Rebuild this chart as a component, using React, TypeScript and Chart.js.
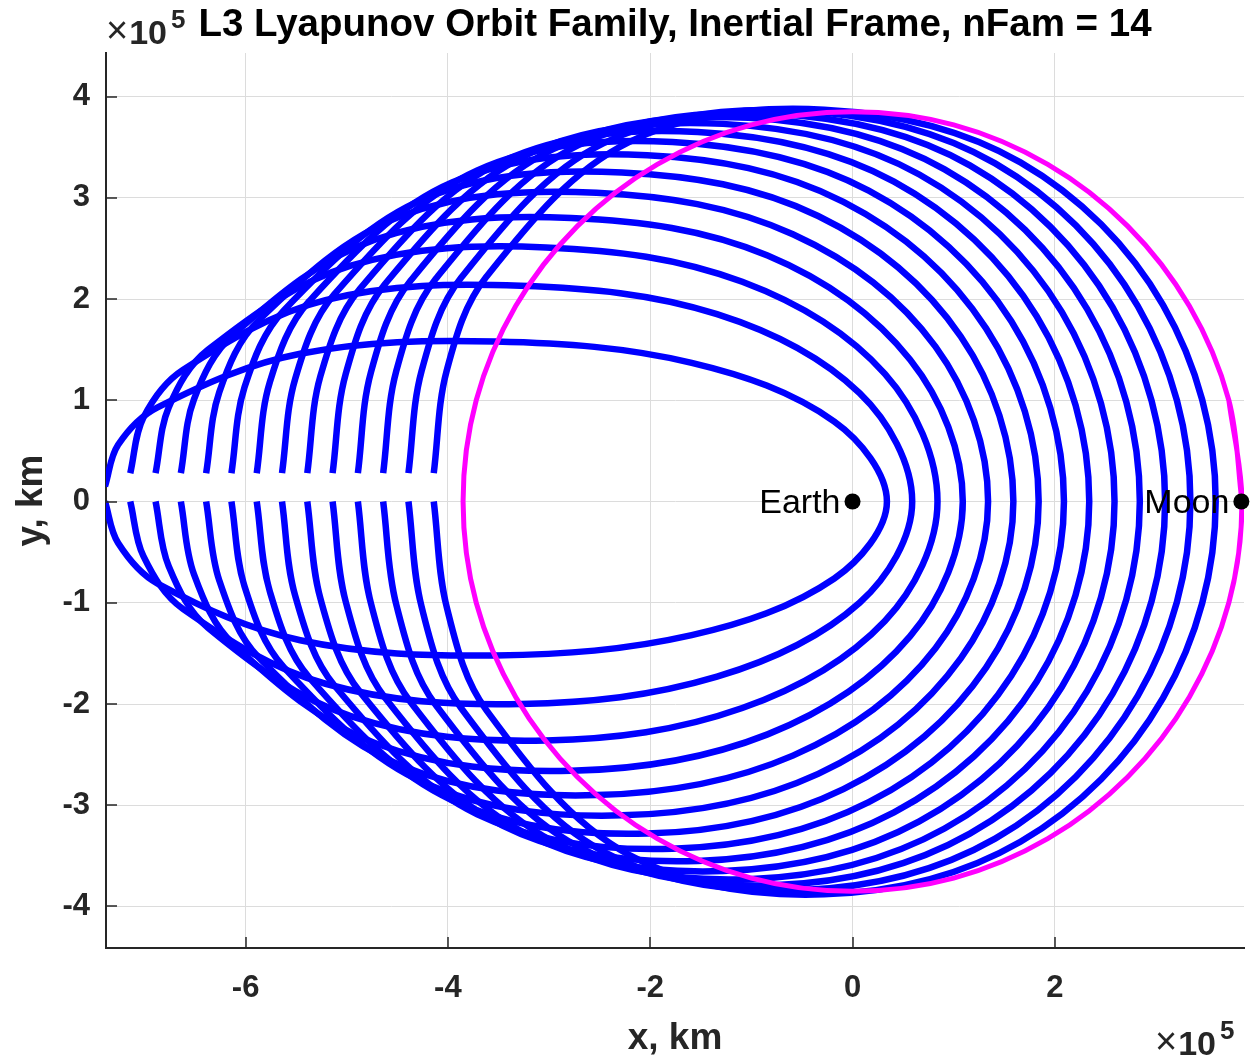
import { useEffect, useRef } from "react";
import { Chart, registerables } from "chart.js";

Chart.register(...registerables);

const W = 1258;
const H = 1057;
const FONT = "'Liberation Sans', Arial, Helvetica, sans-serif";

// L3 Lyapunov family members (units of 1e5 km), traced from the left x-axis crossing,
// down under the Earth, round the right-hand side, over the top and back to the left.
const orbitX: number[][] = [
  [-7.39, -7.26, -6.87, -5.46, -3.53, -1.59, -0.18, 0.34, -0.18, -1.59, -3.53, -5.46, -6.87, -7.26, -7.39],
  [-7.14, -7.01, -6.62, -5.21, -3.28, -1.34, 0.07, 0.59, 0.07, -1.34, -3.28, -5.21, -6.62, -7.01, -7.14],
  [-6.89, -6.76, -6.37, -4.96, -3.03, -1.09, 0.32, 0.84, 0.32, -1.09, -3.03, -4.96, -6.37, -6.76, -6.89],
  [-6.64, -6.51, -6.12, -4.71, -2.78, -0.84, 0.57, 1.09, 0.57, -0.84, -2.78, -4.71, -6.12, -6.51, -6.64],
  [-6.39, -6.26, -5.87, -4.46, -2.53, -0.59, 0.82, 1.34, 0.82, -0.59, -2.53, -4.46, -5.87, -6.26, -6.39],
  [-6.14, -6.01, -5.62, -4.21, -2.28, -0.34, 1.07, 1.59, 1.07, -0.34, -2.28, -4.21, -5.62, -6.01, -6.14],
  [-5.89, -5.76, -5.37, -3.96, -2.03, -0.09, 1.32, 1.84, 1.32, -0.09, -2.03, -3.96, -5.37, -5.76, -5.89],
  [-5.64, -5.51, -5.12, -3.71, -1.78, 0.16, 1.57, 2.09, 1.57, 0.16, -1.78, -3.71, -5.12, -5.51, -5.64],
  [-5.39, -5.26, -4.87, -3.46, -1.53, 0.41, 1.82, 2.34, 1.82, 0.41, -1.53, -3.46, -4.87, -5.26, -5.39],
  [-5.14, -5.01, -4.62, -3.21, -1.28, 0.66, 2.07, 2.59, 2.07, 0.66, -1.28, -3.21, -4.62, -5.01, -5.14],
  [-4.89, -4.76, -4.37, -2.96, -1.03, 0.91, 2.32, 2.84, 2.32, 0.91, -1.03, -2.96, -4.37, -4.76, -4.89],
  [-4.64, -4.51, -4.12, -2.71, -0.78, 1.16, 2.57, 3.09, 2.57, 1.16, -0.78, -2.71, -4.12, -4.51, -4.64],
  [-4.39, -4.26, -3.87, -2.46, -0.53, 1.41, 2.82, 3.34, 2.82, 1.41, -0.53, -2.46, -3.87, -4.26, -4.39],
  [-4.14, -4.01, -3.62, -2.21, -0.28, 1.66, 3.07, 3.59, 3.07, 1.66, -0.28, -2.21, -3.62, -4.01, -4.14],
];

const orbitY: number[][] = [
  [0, -0.41, -0.81, -1.37, -1.52, -1.32, -0.76, 0, 0.79, 1.37, 1.58, 1.46, 0.93, 0.56, 0.15],
  [0, -0.54, -1.06, -1.8, -2.0, -1.73, -1.0, 0, 1.07, 1.85, 2.13, 1.99, 1.3, 0.83, 0.28],
  [0, -0.64, -1.25, -2.12, -2.36, -2.04, -1.18, 0, 1.26, 2.17, 2.51, 2.33, 1.5, 0.93, 0.28],
  [0, -0.72, -1.41, -2.39, -2.66, -2.3, -1.33, 0, 1.4, 2.43, 2.8, 2.59, 1.65, 1.01, 0.28],
  [0, -0.78, -1.54, -2.61, -2.9, -2.51, -1.45, 0, 1.53, 2.64, 3.05, 2.82, 1.79, 1.08, 0.28],
  [0, -0.84, -1.64, -2.79, -3.1, -2.69, -1.55, 0, 1.63, 2.82, 3.25, 3.0, 1.89, 1.13, 0.28],
  [0, -0.89, -1.74, -2.95, -3.28, -2.84, -1.64, 0, 1.71, 2.96, 3.42, 3.15, 1.98, 1.18, 0.28],
  [0, -0.93, -1.82, -3.09, -3.43, -2.97, -1.72, 0, 1.78, 3.07, 3.55, 3.27, 2.05, 1.21, 0.28],
  [0, -0.96, -1.88, -3.2, -3.55, -3.07, -1.78, 0, 1.83, 3.16, 3.65, 3.36, 2.1, 1.24, 0.28],
  [0, -0.99, -1.94, -3.29, -3.65, -3.16, -1.83, 0, 1.87, 3.23, 3.73, 3.43, 2.15, 1.26, 0.28],
  [0, -1.01, -1.98, -3.36, -3.73, -3.23, -1.87, 0, 1.9, 3.28, 3.79, 3.48, 2.18, 1.28, 0.28],
  [0, -1.02, -2.01, -3.41, -3.79, -3.28, -1.9, 0, 1.92, 3.32, 3.83, 3.52, 2.2, 1.29, 0.28],
  [0, -1.04, -2.04, -3.46, -3.84, -3.33, -1.92, 0, 1.93, 3.34, 3.86, 3.54, 2.21, 1.29, 0.28],
  [0, -1.05, -2.06, -3.49, -3.88, -3.36, -1.94, 0, 1.94, 3.35, 3.87, 3.55, 2.22, 1.3, 0.28],
];

// Lunar orbit about the Earth (the last point overlaps the start so the loop closes smoothly)
const moonOrbitX = [
  3.85, 3.72, 3.33, 2.72, 1.93, 1.0, 0, -1.0, -1.93, -2.72, -3.33, -3.72, -3.85,
  -3.72, -3.33, -2.72, -1.93, -1.0, 0, 1.0, 1.93, 2.72, 3.33, 3.72, 3.85, 3.72,
];
const moonOrbitY = [
  0, 1.0, 1.93, 2.72, 3.33, 3.72, 3.85, 3.72, 3.33, 2.72, 1.93, 1.0, 0,
  -1.0, -1.93, -2.72, -3.33, -3.72, -3.85, -3.72, -3.33, -2.72, -1.93, -1.0, 0, 1.0,
];

const bodyNames = ["Earth", "Moon"];
const bodyX = [0, 3.844];
const bodyY = [0, 0];

const xTicks = [-6, -4, -2, 0, 2];
const yTicks = [-4, -3, -2, -1, 0, 1, 2, 3, 4];
const xRange = [-7.38, 3.87];
const yRange = [-4.41, 4.43];

const titleText = "L3 Lyapunov Orbit Family, Inertial Frame, nFam = 14";
const xLabel = "x, km";
const yLabel = "y, km";
const exponentText = "5";

const AXIS_COLOR = "#262626";

// "×10^5" multiplier drawn as a small composite label
function drawExponent(ctx: CanvasRenderingContext2D, x: number, baseline: number) {
  ctx.textAlign = "left";
  ctx.textBaseline = "alphabetic";
  ctx.fillStyle = AXIS_COLOR;
  ctx.font = `38px ${FONT}`;
  ctx.fillText("\u00d7", x, baseline - 1);
  let cx = x + ctx.measureText("\u00d7").width + 1;
  ctx.font = `bold 34px ${FONT}`;
  ctx.fillText("10", cx, baseline);
  cx += ctx.measureText("10").width + 4;
  ctx.font = `bold 26px ${FONT}`;
  ctx.fillText(exponentText, cx, baseline - 16);
}

const annotations = {
  id: "annotations",
  afterDatasetsDraw(chart: any) {
    const { ctx, chartArea: a, scales } = chart;
    const xs = scales.x;
    const ys = scales.y;
    ctx.save();

    // inward tick marks on the two visible axes
    ctx.strokeStyle = AXIS_COLOR;
    ctx.lineWidth = 1.5;
    ctx.beginPath();
    for (const v of xTicks) {
      const px = Math.round(xs.getPixelForValue(v));
      ctx.moveTo(px, a.bottom);
      ctx.lineTo(px, a.bottom - 11);
    }
    for (const v of yTicks) {
      const py = Math.round(ys.getPixelForValue(v));
      ctx.moveTo(a.left, py);
      ctx.lineTo(a.left + 11, py);
    }
    ctx.stroke();

    // body names beside their markers
    ctx.fillStyle = "#000";
    ctx.font = `34px ${FONT}`;
    ctx.textAlign = "right";
    ctx.textBaseline = "middle";
    bodyNames.forEach((name, i) => {
      ctx.fillText(name, xs.getPixelForValue(bodyX[i]) - 12, ys.getPixelForValue(bodyY[i]) + 2);
    });

    // axis exponent markers
    drawExponent(ctx, 106, 44);
    drawExponent(ctx, 1155, 1055);

    ctx.restore();
  },
};

export default function App() {
  const canvasRef = useRef<HTMLCanvasElement | null>(null);

  useEffect(() => {
    const canvas = canvasRef.current;
    if (!canvas) return;

    const orbitSets = orbitX.map((xsRow, k) => ({
      label: `Orbit ${k + 1}`,
      data: xsRow.map((x, i) => ({ x, y: orbitY[k][i] })),
      borderColor: "#0000ff",
      backgroundColor: "#0000ff",
      borderWidth: 6.5,
      showLine: true,
      pointRadius: 0,
      tension: 0.35,
      fill: false,
      order: 2,
    }));

    const chart = new Chart(canvas, {
      type: "scatter",
      data: {
        datasets: [
          ...orbitSets,
          {
            label: "Moon orbit",
            data: moonOrbitX.map((x, i) => ({ x, y: moonOrbitY[i] })),
            borderColor: "#ff00ff",
            backgroundColor: "#ff00ff",
            borderWidth: 5,
            showLine: true,
            pointRadius: 0,
            tension: 0.34,
            fill: false,
            order: 1,
          },
          {
            label: "Bodies",
            data: bodyX.map((x, i) => ({ x, y: bodyY[i] })),
            pointRadius: 8,
            pointBackgroundColor: "#000",
            pointBorderColor: "#000",
            pointBorderWidth: 0,
            showLine: false,
            order: 0,
            clip: false,
          } as any,
        ],
      },
      options: {
        responsive: false,
        animation: false,
        devicePixelRatio: 1,
        layout: { padding: { left: 0, right: 14, top: 0, bottom: 0 } },
        elements: {
          line: { borderCapStyle: "butt", borderJoinStyle: "round", capBezierPoints: false },
        },
        plugins: {
          legend: { display: false },
          tooltip: { enabled: false },
          title: {
            display: true,
            text: titleText,
            color: "#000",
            fullSize: false,
            font: { family: FONT, size: 38.5, weight: "bold" },
            padding: { top: 2, bottom: 4.8 },
          },
        },
        scales: {
          x: {
            type: "linear",
            min: xRange[0],
            max: xRange[1],
            afterBuildTicks: (scale: any) => {
              scale.ticks = xTicks.map((value) => ({ value }));
            },
            afterFit: (scale: any) => {
              scale.height = 109;
            },
            grid: { color: "#dcdcdc", lineWidth: 1, drawTicks: false },
            border: { display: true, color: AXIS_COLOR, width: 2 },
            ticks: {
              color: AXIS_COLOR,
              font: { family: FONT, size: 31, weight: "bold" },
              padding: 22,
              maxRotation: 0,
              autoSkip: false,
            },
            title: {
              display: true,
              text: xLabel,
              color: AXIS_COLOR,
              font: { family: FONT, size: 37, weight: "bold", lineHeight: 1 },
              padding: { top: 2.5, bottom: 0 },
            },
          },
          y: {
            type: "linear",
            min: yRange[0],
            max: yRange[1],
            afterBuildTicks: (scale: any) => {
              scale.ticks = yTicks.map((value) => ({ value }));
            },
            afterFit: (scale: any) => {
              scale.width = 106;
            },
            grid: { color: "#dcdcdc", lineWidth: 1, drawTicks: false },
            border: { display: true, color: AXIS_COLOR, width: 2 },
            ticks: {
              color: AXIS_COLOR,
              font: { family: FONT, size: 31, weight: "bold" },
              padding: 16,
              autoSkip: false,
            },
            title: {
              display: true,
              text: yLabel,
              color: AXIS_COLOR,
              font: { family: FONT, size: 37, weight: "bold", lineHeight: 1 },
              padding: { top: 13.5, bottom: 0 },
            },
          },
        },
      },
      plugins: [annotations],
    });

    return () => chart.destroy();
  }, []);

  return (
    <div style={{ position: "fixed", left: 0, top: 0, width: W, height: H, background: "#fff" }}>
      <canvas ref={canvasRef} width={W} height={H} style={{ display: "block", width: W, height: H }} />
    </div>
  );
}
